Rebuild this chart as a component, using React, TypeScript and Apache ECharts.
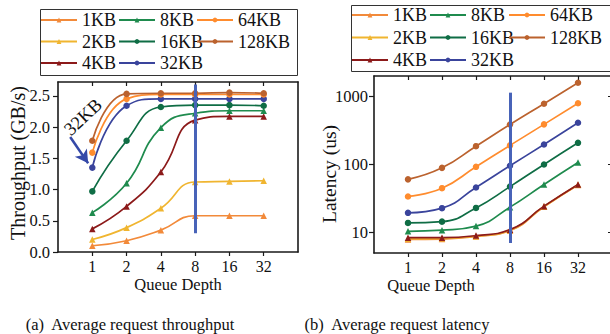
import React, { useEffect, useRef } from 'react';
import * as echarts from 'echarts';

// ---------- data ----------
const QUEUE_DEPTH = [1, 2, 4, 8, 16, 32];
const SIZES = ['1KB', '2KB', '4KB', '8KB', '16KB', '32KB', '64KB', '128KB'];
const COLORS = ['#f28a3a', '#f0b530', '#8c1a1a', '#1f8b4e', '#0f6d45', '#3a449c', '#ff8c2e', '#bb622e'];
const SYMBOLS = ['triangle', 'triangle', 'triangle', 'triangle', 'circle', 'circle', 'circle', 'circle'];

// throughput (GB/s)
const TP_1KB = [0.10, 0.18, 0.35, 0.58, 0.58, 0.58];
const TP_2KB = [0.20, 0.39, 0.70, 1.12, 1.13, 1.14];
const TP_4KB = [0.37, 0.73, 1.28, 2.11, 2.17, 2.17];
const TP_8KB = [0.63, 1.10, 1.99, 2.22, 2.26, 2.26];
const TP_16KB = [0.97, 1.78, 2.32, 2.35, 2.35, 2.34];
const TP_32KB = [1.35, 2.34, 2.45, 2.45, 2.45, 2.45];
const TP_64KB = [1.59, 2.45, 2.52, 2.52, 2.52, 2.52];
const TP_128KB = [1.78, 2.53, 2.54, 2.54, 2.55, 2.54];
const THROUGHPUT = [TP_1KB, TP_2KB, TP_4KB, TP_8KB, TP_16KB, TP_32KB, TP_64KB, TP_128KB];

// latency (us)
const LAT_1KB = [7.9, 8.0, 8.7, 10.6, 23.8, 49.5];
const LAT_2KB = [8.1, 8.2, 8.8, 10.8, 24.0, 50.0];
const LAT_4KB = [8.4, 8.4, 9.0, 11.0, 24.3, 50.6];
const LAT_8KB = [10.4, 10.8, 12.4, 23.5, 50.6, 106];
const LAT_16KB = [13.8, 14.4, 22.9, 47, 99.3, 206];
const LAT_32KB = [19.4, 22.7, 45.7, 95, 195, 405];
const LAT_64KB = [33.7, 44.6, 91.6, 189, 384, 782];
const LAT_128KB = [60, 88.5, 184, 382, 771, 1565];
const LATENCY = [LAT_1KB, LAT_2KB, LAT_4KB, LAT_8KB, LAT_16KB, LAT_32KB, LAT_64KB, LAT_128KB];

const TP_TICKS = [0, 0.5, 1.0, 1.5, 2.0, 2.5];
const LAT_TICKS = [10, 100, 1000];

const LEGEND_COLS = [['1KB', '2KB', '4KB'], ['8KB', '16KB', '32KB'], ['64KB', '128KB']];

// annotations (data space)
const MARK_QD = 8;
const VLINE_TP = [0.30, 2.68];
const VLINE_LAT = [7, 1120];
const ARROW_FROM = [0.64, 1.84];
const ARROW_TO = [0.92, 1.42];

const FONT = "'Liberation Serif', 'Times New Roman', Times, Tinos, serif";
const AXIS_COLOR = '#1a1a1a';
const VLINE_COLOR = '#4863b8';

function App() {
  const ref = useRef<HTMLDivElement>(null);

  useEffect(() => {
    if (!ref.current) return;
    const chart = echarts.init(ref.current, null, { renderer: 'svg' });

    const axisLine = { show: true, onZero: false, lineStyle: { color: AXIS_COLOR, width: 1.6 } };

    const xBottom = (gridIndex: number, extra: any = {}) => ({
      type: 'log',
      logBase: 2,
      gridIndex,
      min: 0.5,
      max: 64,
      position: 'bottom',
      axisLine,
      splitLine: { show: false },
      axisTick: { show: true, inside: false, length: 4, customValues: QUEUE_DEPTH, lineStyle: { color: AXIS_COLOR, width: 1.2 } },
      axisLabel: { customValues: QUEUE_DEPTH, fontSize: 16, color: '#111', margin: 6, fontFamily: FONT, formatter: (v: number) => String(v) },
      name: 'Queue Depth',
      nameLocation: 'middle',
      nameGap: 24,
      nameMoveOverlap: false,
      nameTextStyle: { fontSize: 16.5, color: '#111', fontFamily: FONT, ...(extra.nameTextStyle || {}) },
    });
    const xTop = (gridIndex: number) => ({
      type: 'log',
      logBase: 2,
      gridIndex,
      min: 0.5,
      max: 64,
      position: 'top',
      axisLine,
      splitLine: { show: false },
      axisTick: { show: true, inside: true, length: 4, customValues: QUEUE_DEPTH, lineStyle: { color: AXIS_COLOR, width: 1.2 } },
      axisLabel: { show: false },
    });

    const series: any[] = [];
    SIZES.forEach((name, i) => {
      series.push({
        type: 'line',
        name,
        xAxisIndex: 0,
        yAxisIndex: 0,
        data: QUEUE_DEPTH.map((q, j) => [q, THROUGHPUT[i][j]]),
        smooth: 0.5,
        symbol: SYMBOLS[i],
        symbolSize: 6.5,
        lineStyle: { width: 1.7, color: COLORS[i] },
        itemStyle: { color: COLORS[i] },
        z: 2,
      });
    });
    SIZES.forEach((name, i) => {
      series.push({
        type: 'line',
        name,
        xAxisIndex: 2,
        yAxisIndex: 2,
        data: QUEUE_DEPTH.map((q, j) => [q, LATENCY[i][j]]),
        smooth: 0.5,
        symbol: SYMBOLS[i],
        symbolSize: 6.5,
        lineStyle: { width: 1.7, color: COLORS[i] },
        itemStyle: { color: COLORS[i] },
        z: 2,
      });
    });
    // annotation series (no legend entry)
    series.push({
      type: 'line',
      name: '__markA',
      xAxisIndex: 0,
      yAxisIndex: 0,
      data: [],
      z: 5,
      markLine: {
        silent: true,
        animation: false,
        label: { show: false },
        data: [
          [
            { coord: [MARK_QD, VLINE_TP[0]], symbol: 'none', lineStyle: { color: VLINE_COLOR, width: 3, type: 'solid' } },
            { coord: [MARK_QD, VLINE_TP[1]], symbol: 'none' },
          ],
          [
            { coord: ARROW_FROM, symbol: 'none', lineStyle: { color: '#3549a8', width: 2.5, type: 'solid' } },
            { coord: ARROW_TO, symbol: 'arrow', symbolSize: [11, 13] },
          ],
        ],
      },
    });
    series.push({
      type: 'line',
      name: '__markB',
      xAxisIndex: 2,
      yAxisIndex: 2,
      data: [],
      z: 5,
      markLine: {
        silent: true,
        animation: false,
        label: { show: false },
        data: [
          [
            { coord: [MARK_QD, VLINE_LAT[0]], symbol: 'none', lineStyle: { color: VLINE_COLOR, width: 3, type: 'solid' } },
            { coord: [MARK_QD, VLINE_LAT[1]], symbol: 'none' },
          ],
        ],
      },
    });

    const legendLefts = [[40, 118, 196], [351, 429, 508]];
    const legendTops = [11, 6];
    const legendGaps = [3.5, 4.5];
    const legends: any[] = [];
    legendLefts.forEach((lefts, p) => {
      LEGEND_COLS.forEach((col, c) => {
        legends.push({
          orient: 'vertical',
          left: lefts[c],
          top: legendTops[p],
          padding: 0,
          itemGap: legendGaps[p],
          itemWidth: 36,
          itemHeight: 6,
          selectedMode: false,
          data: col,
          textStyle: { fontSize: 18, color: '#111', fontFamily: FONT },
        });
      });
    });

    const option: any = {
      animation: false,
      textStyle: { fontFamily: FONT },
      legend: legends,
      grid: [
        { left: 58, top: 82, width: 240, height: 170, outerBoundsMode: 'none', containLabel: false },
        { left: 374, top: 76, width: 238, height: 177, outerBoundsMode: 'none', containLabel: false },
      ],
      xAxis: [
        xBottom(0),
        xTop(0),
        xBottom(1, { nameTextStyle: { padding: [0, 124, 0, 0] } }),
        xTop(1),
      ],
      yAxis: [
        {
          type: 'value',
          gridIndex: 0,
          min: 0,
          max: 2.72,
          position: 'left',
          axisLine,
          splitLine: { show: false },
          axisTick: { show: true, inside: false, length: 5, customValues: TP_TICKS, lineStyle: { color: AXIS_COLOR, width: 1.2 } },
          axisLabel: { customValues: TP_TICKS, fontSize: 16.5, color: '#111', margin: 8, fontFamily: FONT, formatter: (v: number) => v.toFixed(1) },
          name: 'Throughput (GB/s)',
          nameLocation: 'middle',
          nameGap: 30,
          nameMoveOverlap: false,
          nameTextStyle: { fontSize: 20, color: '#111', fontFamily: FONT, padding: [0, 0, 0, 8] },
        },
        {
          type: 'value',
          gridIndex: 0,
          min: 0,
          max: 2.72,
          position: 'right',
          axisLine,
          splitLine: { show: false },
          axisTick: { show: false },
          axisLabel: { show: false },
        },
        {
          type: 'log',
          logBase: 10,
          gridIndex: 1,
          min: 5,
          max: 1965,
          position: 'left',
          axisLine,
          splitLine: { show: false },
          axisTick: { show: true, inside: false, length: 5, customValues: LAT_TICKS, lineStyle: { color: AXIS_COLOR, width: 1.2 } },
          axisLabel: { customValues: LAT_TICKS, fontSize: 16.5, color: '#111', margin: 6, fontFamily: FONT, formatter: (v: number) => String(Math.round(v)) },
          name: 'Latency (us)',
          nameLocation: 'middle',
          nameGap: 35,
          nameMoveOverlap: false,
          nameTextStyle: { fontSize: 19.5, color: '#111', fontFamily: FONT, padding: [0, 19, 0, 0] },
        },
        {
          type: 'log',
          logBase: 10,
          gridIndex: 1,
          min: 5,
          max: 1965,
          position: 'right',
          axisLine,
          splitLine: { show: false },
          axisTick: { show: true, inside: true, length: 4, customValues: LAT_TICKS, lineStyle: { color: AXIS_COLOR, width: 1.2 } },
          axisLabel: { show: false },
        },
      ],
      series,
      graphic: [
        { type: 'rect', shape: { x: 40.5, y: 9.5, width: 257, height: 66 }, style: { fill: 'none', stroke: '#333', lineWidth: 1 }, silent: true },
        { type: 'rect', shape: { x: 351.5, y: 5.5, width: 270, height: 66 }, style: { fill: 'none', stroke: '#333', lineWidth: 1 }, silent: true },
        {
          type: 'text', x: 83, y: 117, rotation: 0.75,
          style: { text: '32KB', fontSize: 18.5, fontFamily: FONT, fill: '#111', align: 'center', verticalAlign: 'middle' },
          silent: true,
        },
        {
          type: 'text', x: 130, y: 324,
          style: { text: '(a)\u00a0 Average request throughput', fontSize: 16.5, fontFamily: FONT, fill: '#111', align: 'center', verticalAlign: 'middle' },
          silent: true,
        },
        {
          type: 'text', x: 397, y: 324,
          style: { text: '(b)\u00a0 Average request latency', fontSize: 16.5, fontFamily: FONT, fill: '#111', align: 'center', verticalAlign: 'middle' },
          silent: true,
        },
      ],
    };

    chart.setOption(option);
    return () => chart.dispose();
  }, []);

  return (
    <div
      ref={ref}
      style={{ position: 'absolute', left: 0, top: 0, width: 610, height: 334, background: '#fff' }}
    />
  );
}

export default App;
